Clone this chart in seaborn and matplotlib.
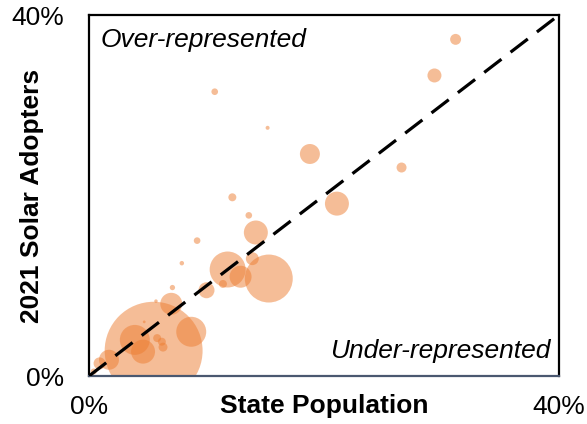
import matplotlib
matplotlib.use("Agg")
import matplotlib.pyplot as plt
import numpy as np
import pandas as pd
import seaborn as sns

# ------------------------------------------------------------------------------
# Data (percent shares), bubble weight ~ relative area
# ------------------------------------------------------------------------------
state_pop = [10.7, 15.2, 18.8, 12.2, 13.6, 21.1, 31.2, 29.4, 26.6, 14.2,
             9.2, 7.9, 11.8, 13.9, 15.3, 11.4, 12.9, 10.0, 7.1, 5.7,
             7.0, 4.7, 8.7, 5.5, 3.9, 4.6, 5.8, 6.2, 6.3, 1.7, 0.9, 0.4]
solar_adopters = [31.5, 27.5, 24.6, 19.8, 17.8, 19.1, 37.3, 33.3, 23.1, 15.9,
                  15.0, 12.5, 11.8, 13.0, 10.8, 10.2, 11.0, 9.5, 9.8, 8.3,
                  8.0, 6.0, 4.9, 2.8, 4.0, 2.7, 4.2, 3.8, 3.2, 1.8, 1.4, 0.5]
bubble_weight = [11, 4, 100, 16, 11, 144, 30, 49, 25, 144,
                 11, 5, 324, 42, 576, 16, 121, 64, 7, 3,
                 121, 2, 225, 2401, 225, 144, 16, 16, 20, 100, 36, 9]

axis_ticks = [0, 40]
tick_labels = ["0%", "40%"]

df = pd.DataFrame({"pop": state_pop, "solar": solar_adopters, "w": bubble_weight})

# ------------------------------------------------------------------------------
# Plot
# ------------------------------------------------------------------------------
sns.set_theme(style="white")
plt.rcParams["font.family"] = ["Liberation Sans", "DejaVu Sans"]

fig = plt.figure(figsize=(5.87, 4.24), dpi=100)
ax = fig.add_axes([89 / 587, 1 - 376 / 424, 470 / 587, 361 / 424])

w_max = max(bubble_weight)
sns.scatterplot(data=df, x="pop", y="solar", size="w",
                sizes=(0, 2.07 * w_max), size_norm=(0, w_max),
                color="#ED7D31", alpha=0.5, linewidth=0, legend=False, ax=ax)

ax.plot([0, 39.6], [0, 39.6], color="black", lw=2.3, dashes=(6.8, 3.6),
        solid_capstyle="butt", dash_capstyle="butt", zorder=5)

ax.set_xlim(0, 40)
ax.set_ylim(0, 40)
ax.set_xticks(axis_ticks)
ax.set_yticks(axis_ticks)
ax.set_xticklabels(tick_labels)
ax.set_yticklabels(tick_labels)
ax.tick_params(axis="both", length=0, labelsize=19, colors="black")
ax.tick_params(axis="x", pad=14)
ax.tick_params(axis="y", pad=18)

ax.set_xlabel("State Population", fontsize=19, fontweight="bold", color="black")
ax.set_ylabel("2021 Solar Adopters", fontsize=19, fontweight="bold", color="black")
ax.xaxis.set_label_coords(0.5, -30 / 361)
ax.xaxis.label.set_va("center")
ax.yaxis.set_label_coords(-57 / 470, 0.5)
ax.yaxis.label.set_va("center")

for side in ["left", "top", "right"]:
    ax.spines[side].set_color("black")
    ax.spines[side].set_linewidth(1.6)
ax.spines["bottom"].set_color("#4a5870")
ax.spines["bottom"].set_linewidth(1.6)

ax.text(0.025, 0.93, "Over-represented", transform=ax.transAxes,
        fontsize=19, style="italic", ha="left", va="center", color="black")
ax.text(0.982, 0.068, "Under-represented", transform=ax.transAxes,
        fontsize=19, style="italic", ha="right", va="center", color="black")

fig.savefig("out.png", dpi=100)
plt.close(fig)
